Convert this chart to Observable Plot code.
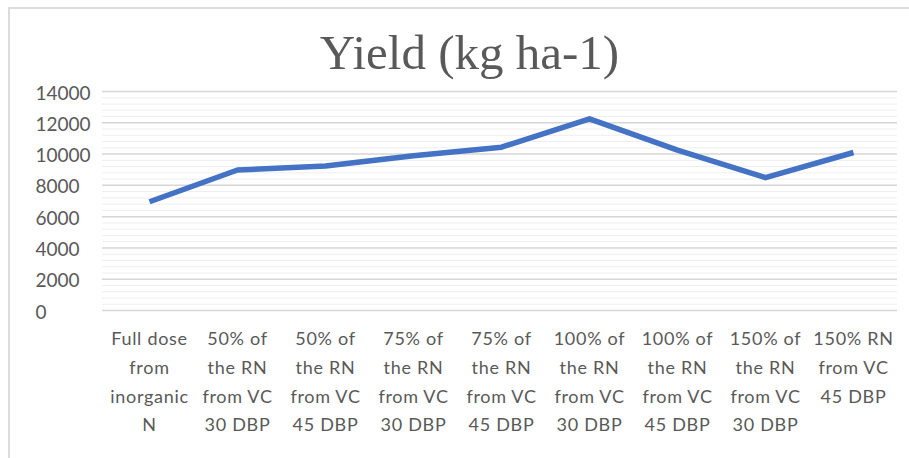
<!DOCTYPE html>
<html>
<head>
<meta charset="utf-8">
<script src="https://cdn.jsdelivr.net/npm/d3@7"></script>
<script src="https://cdn.jsdelivr.net/npm/@observablehq/plot@0.6"></script>
<style>
  html, body { margin: 0; padding: 0; background: #fff; }
  #wrap { position: relative; width: 909px; height: 458px; overflow: hidden; }
  #frame { position: absolute; left: 8px; top: 7px; width: 1000px; height: 1000px;
           border-left: 2px solid #dcdcdc; border-top: 2px solid #dcdcdc; box-sizing: border-box; }
  #chart { position: absolute; left: 0; top: 0; }
  #chart g[aria-label="x-axis tick label"] text { letter-spacing: 0.7px; }
</style>
</head>
<body>
<div id="wrap"><div id="frame"></div><div id="chart"></div></div>
<script>
const title = "Yield (kg ha-1)";
const categories = [
  "Full dose\nfrom\ninorganic\nN",
  "50% of\nthe RN\nfrom VC\n30 DBP",
  "50% of\nthe RN\nfrom VC\n45 DBP",
  "75% of\nthe RN\nfrom VC\n30 DBP",
  "75% of\nthe RN\nfrom VC\n45 DBP",
  "100% of\nthe RN\nfrom VC\n30 DBP",
  "100% of\nthe RN\nfrom VC\n45 DBP",
  "150% of\nthe RN\nfrom VC\n30 DBP",
  "150% RN\nfrom VC\n45 DBP"
];
const yieldValues = [6950, 8980, 9240, 9890, 10440, 12250, 10250, 8490, 10100];
const majorTicks = [0, 2000, 4000, 6000, 8000, 10000, 12000, 14000];
const minorTicks = d3.range(0, 14001, 400).filter(v => v % 2000 !== 0);

const data = categories.map((c, i) => ({cat: c, val: yieldValues[i]}));
const textColor = "#595959";

const chart = Plot.plot({
  width: 909,
  height: 458,
  marginLeft: 105,
  marginRight: 12,
  marginTop: 91,
  marginBottom: 148,
  style: {background: "transparent", color: textColor, fontFamily: "Lato, 'Open Sans', sans-serif"},
  x: {type: "point", domain: categories, padding: 0.5},
  y: {domain: [0, 14000]},
  marks: [
    Plot.gridY(minorTicks, {stroke: "#eeeeee", strokeOpacity: 1, strokeWidth: 1, insetLeft: -3}),
    Plot.gridY(majorTicks, {stroke: "#d6d6d6", strokeOpacity: 1, strokeWidth: 1.5, insetLeft: -3}),
    Plot.axisY({ticks: majorTicks, tickSize: 0, tickPadding: 0, textAnchor: "start", dx: -70, dy: 2,
                tickFormat: d => String(d), fontSize: 19, fill: textColor, label: null}),
    Plot.axisX({tickSize: 0, tickPadding: 14, fontSize: 18, lineHeight: 1.6, fill: textColor, label: null,
                tickFormat: d => d}),
    Plot.line(data, {x: "cat", y: "val", stroke: "#4472C4", strokeWidth: 5.5,
                     strokeLinejoin: "round", strokeLinecap: "butt"}),
    Plot.text([title], {frameAnchor: "top", dx: -32, dy: -23, lineAnchor: "bottom",
                        fontFamily: "'Liberation Serif', 'Times New Roman', serif",
                        fontSize: 49, fill: textColor})
  ]
});
document.getElementById("chart").appendChild(chart);
</script>
</body>
</html>
